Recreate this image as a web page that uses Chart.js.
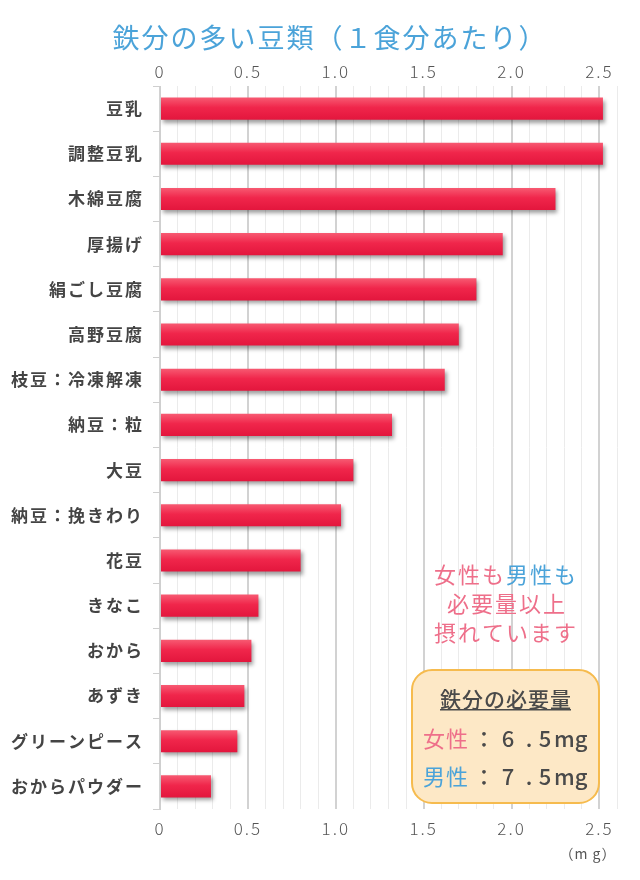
<!DOCTYPE html>
<html>
<head>
<meta charset="utf-8">
<script src="https://cdn.jsdelivr.net/npm/chart.js@4"></script>
<style>
  html, body { margin: 0; padding: 0; background: #fff; }
  #wrap { width: 640px; height: 880px; }
</style>
</head>
<body>
<div id="wrap"><canvas id="myChart" width="640" height="880"></canvas></div>
<script>
// data
var foods = ['豆乳', '調整豆乳', '木綿豆腐', '厚揚げ', '絹ごし豆腐', '高野豆腐', '枝豆：冷凍解凍', '納豆：粒',
  '大豆', '納豆：挽きわり', '花豆', 'きなこ', 'おから', 'あずき', 'グリーンピース', 'おからパウダー'];
var ironMg = [2.52, 2.52, 2.25, 1.95, 1.8, 1.7, 1.62, 1.32, 1.1, 1.03, 0.8, 0.56, 0.52, 0.48, 0.44, 0.29];
var axisMax = 2.6;
var majorTicks = [0, 0.5, 1.0, 1.5, 2.0, 2.5];
var chartTitle = '鉄分の多い豆類（１食分あたり）';
var unitLabel = '（m g）';
var needTitle = '鉄分の必要量';
var needWomen = ['女性', '6', '5'];
var needMen = ['男性', '7', '5'];

var FONT = '"Noto Sans CJK JP", "Noto Sans", sans-serif';
var PINK = '#ee6f8a';
var BLUE = '#4ba3d9';
var DARK = '#4a4a4a';

function isMajor(v) {
  return Math.round(v * 10) % 5 === 0;
}
function tickText(v) {
  var r = Math.round(v * 10);
  if (r % 5 !== 0 || majorTicks.indexOf(r / 10) < 0) return '';
  return r === 0 ? '0' : (r / 10).toFixed(1);
}

// vertical gradient for each bar, using the category scale
function barFill(context) {
  var chart = context.chart;
  var y = chart.scales.y;
  if (!y || !chart.chartArea) return '#ee2248';
  var cy = y.getPixelForValue(context.dataIndex);
  var half = (y.height / foods.length) * 0.49 / 2;
  var g = chart.ctx.createLinearGradient(0, cy - half, 0, cy + half);
  g.addColorStop(0, '#f75a72');
  g.addColorStop(0.45, '#f0264b');
  g.addColorStop(1, '#e3163d');
  return g;
}

// wider letter spacing for axis labels, like the original
var spacing = {
  id: 'spacing',
  beforeDraw: function(chart) { chart.ctx.letterSpacing = '2px'; },
  afterDraw: function(chart) { chart.ctx.letterSpacing = '0px'; }
};

var barShadow = {
  id: 'barShadow',
  beforeDatasetsDraw: function(chart) {
    var c = chart.ctx;
    c.save();
    c.shadowColor = 'rgba(0,0,0,0.38)';
    c.shadowBlur = 4;
    c.shadowOffsetX = 2;
    c.shadowOffsetY = 3;
  },
  afterDatasetsDraw: function(chart) {
    chart.ctx.restore();
  }
};

var overlay = {
  id: 'overlay',
  afterDraw: function(chart) {
    var c = chart.ctx;
    c.save();
    c.letterSpacing = '2px';
    c.textBaseline = 'middle';

    // title
    c.textAlign = 'center';
    c.fillStyle = BLUE;
    c.font = '27px ' + FONT;
    c.fillText(chartTitle, 330, 38);

    // unit
    c.letterSpacing = '1px';
    c.fillStyle = '#555';
    c.font = '14px ' + FONT;
    c.fillText(unitLabel, 588, 854);

    // message
    c.letterSpacing = '2px';
    c.font = '22px ' + FONT;
    c.textAlign = 'left';
    var a = '女性も', b = '男性も';
    var wa = c.measureText(a).width, wb = c.measureText(b).width;
    var x0 = 506 - (wa + wb) / 2;
    c.fillStyle = PINK;
    c.fillText(a, x0, 575);
    c.fillStyle = BLUE;
    c.fillText(b, x0 + wa, 575);
    c.textAlign = 'center';
    c.fillStyle = PINK;
    c.fillText('必要量以上', 507, 604);
    c.fillText('摂れています', 506, 633);

    // requirement box
    c.beginPath();
    c.roundRect(412, 670, 187, 133, 20);
    c.fillStyle = '#fde8c6';
    c.fill();
    c.lineWidth = 2;
    c.strokeStyle = '#f6bb4e';
    c.stroke();

    c.fillStyle = DARK;
    c.font = '500 21px ' + FONT;
    c.letterSpacing = '1px';
    var tw = c.measureText(needTitle).width;
    c.textAlign = 'left';
    c.fillText(needTitle, 506 - tw / 2, 699);
    c.fillRect(506 - tw / 2, 709, tw - 1, 1.5);

    function row(parts, color, y) {
      c.letterSpacing = '1px';
      c.font = '22px ' + FONT;
      c.textAlign = 'left';
      c.fillStyle = color;
      c.fillText(parts[0], 423, y);
      c.letterSpacing = '0px';
      c.fillStyle = DARK;
      c.font = '500 22px ' + FONT;
      c.textAlign = 'center';
      c.fillText('：', 484, y);
      c.fillText(parts[1], 508, y);
      c.fillText('.', 529, y);
      c.fillText(parts[2], 545, y);
      c.textAlign = 'left';
      c.fillText('mg', 554, y);
    }
    row(needWomen, PINK, 739);
    row(needMen, BLUE, 777);
    c.restore();
  }
};

var ctx = document.getElementById('myChart').getContext('2d');
var chart = new Chart(ctx, {
  type: 'bar',
  data: {
    labels: foods,
    datasets: [{
      label: '鉄分',
      data: ironMg,
      backgroundColor: barFill,
      borderWidth: 0,
      barPercentage: 0.49,
      categoryPercentage: 1
    }]
  },
  options: {
    indexAxis: 'y',
    responsive: false,
    animation: false,
    layout: { padding: { left: 0, right: 23, top: 0, bottom: 0 } },
    plugins: {
      legend: { display: false },
      title: { display: false },
      tooltip: { enabled: false }
    },
    scales: {
      x: {
        position: 'top',
        min: 0,
        max: axisMax,
        afterFit: function(scale) { scale.height = 86; },
        border: { display: false },
        grid: {
          drawTicks: false,
          color: function(c) { return isMajor(c.tick.value) ? '#d2d2d2' : '#ebebeb'; },
          lineWidth: function(c) { return isMajor(c.tick.value) ? 2 : 1; }
        },
        ticks: {
          stepSize: 0.1,
          maxTicksLimit: 40,
          autoSkip: false,
          maxRotation: 0,
          padding: 4,
          color: '#555',
          font: { family: FONT, size: 17, weight: '300' },
          callback: tickText
        }
      },
      x2: {
        type: 'linear',
        position: 'bottom',
        min: 0,
        max: axisMax,
        afterFit: function(scale) { scale.height = 71; },
        afterBuildTicks: function(scale) {
          scale.ticks = majorTicks.map(function(v) { return { value: v }; });
        },
        border: { display: false },
        grid: { display: false },
        ticks: {
          autoSkip: false,
          maxRotation: 0,
          padding: 1,
          color: '#555',
          font: { family: FONT, size: 17, weight: '300' },
          callback: tickText
        }
      },
      y: {
        afterFit: function(scale) { scale.width = 160; },
        border: { color: '#cfcfcf', width: 1 },
        grid: {
          offset: true,
          drawOnChartArea: false,
          tickLength: 7,
          color: '#cfcfcf'
        },
        ticks: {
          padding: 9,
          color: '#444',
          font: { family: FONT, size: 17, weight: 'bold' }
        }
      }
    }
  },
  plugins: [spacing, barShadow, overlay]
});
</script>
</body>
</html>
